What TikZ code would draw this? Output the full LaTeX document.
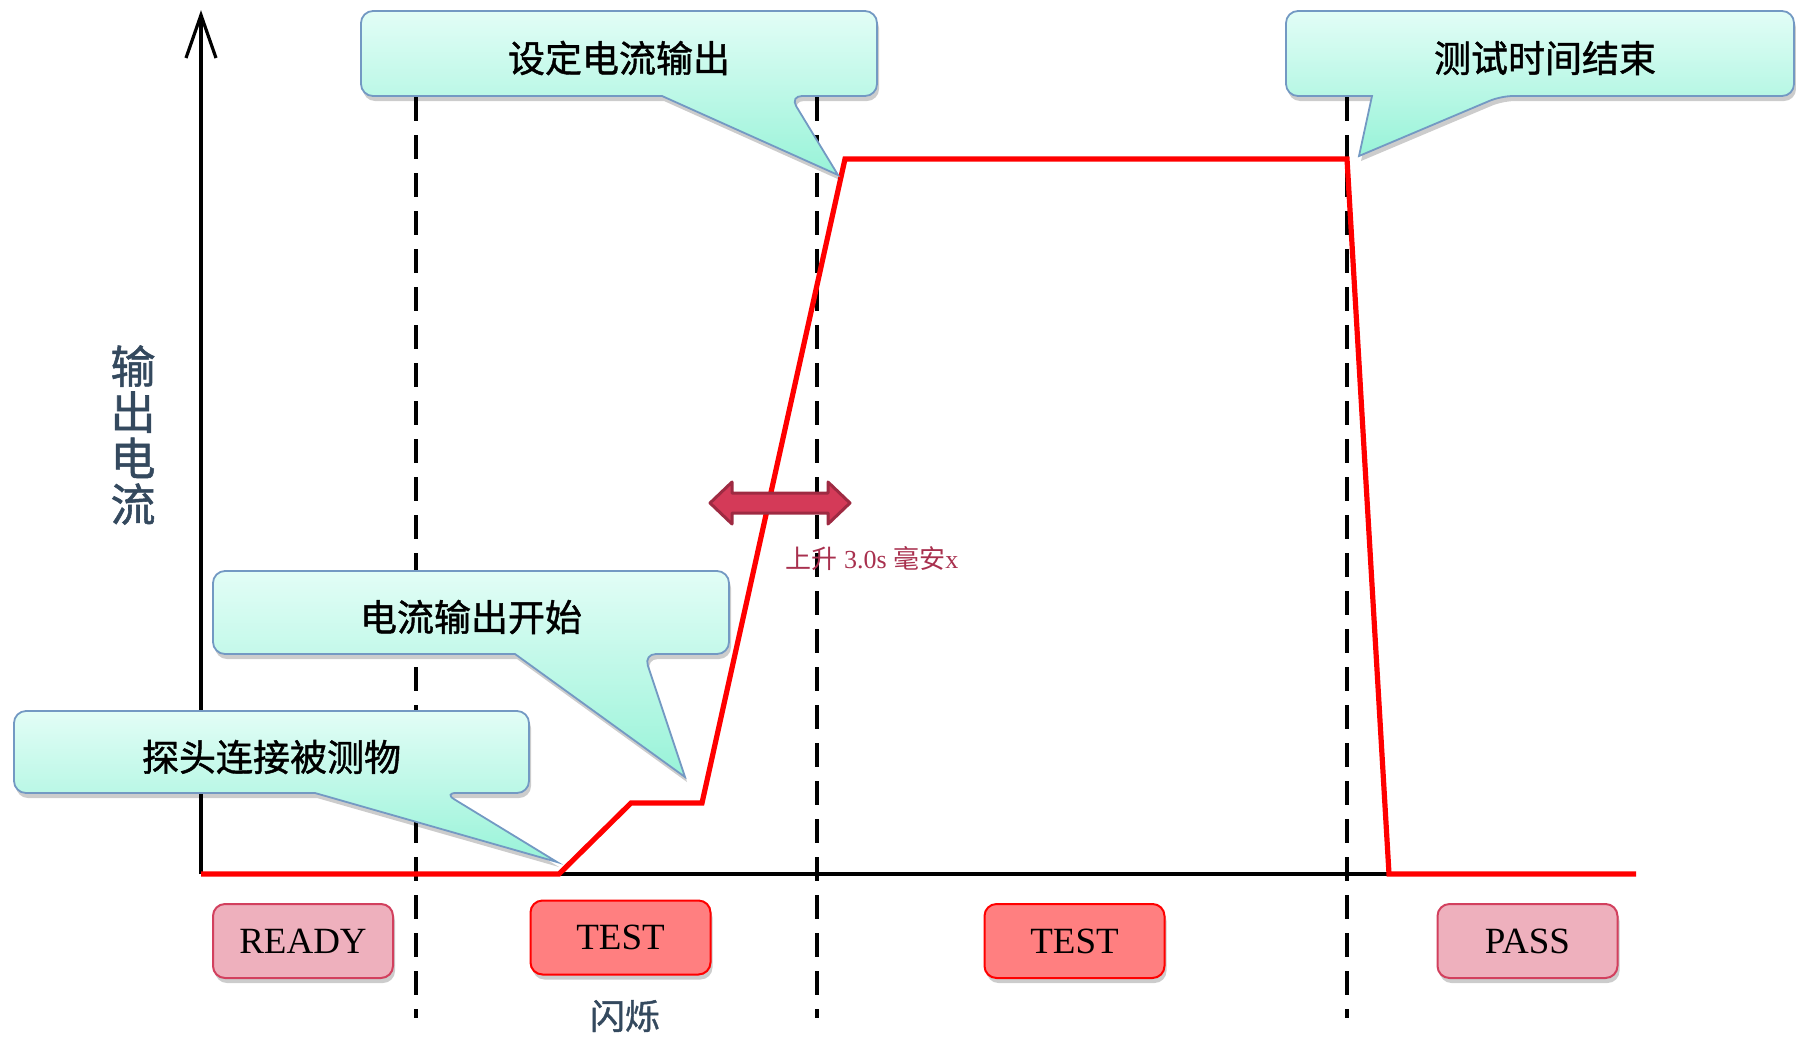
\documentclass[tikz,border=0pt]{standalone}
\usepackage{fontspec}
\setmainfont{Liberation Serif}
\newfontfamily\cjk{Noto Sans CJK SC}
\newfontfamily\cjkb{Noto Sans CJK SC}[FakeBold=1.2]
\usetikzlibrary{shadows}
\definecolor{cotop}{HTML}{E2FDF6}
\definecolor{cobot}{HTML}{98F3D8}
\definecolor{coline}{HTML}{7399C3}
\definecolor{pinkfill}{HTML}{EEB0BD}
\definecolor{pinkline}{HTML}{D2405E}
\definecolor{redfill}{HTML}{FF7F80}
\definecolor{axislbl}{HTML}{34495E}
\definecolor{arrfill}{HTML}{D43A58}
\definecolor{arrline}{HTML}{9E2A42}
\definecolor{lblcol}{HTML}{A8304E}
\tikzset{
  myshadow/.style={drop shadow={shadow xshift=2pt, shadow yshift=-5pt, opacity=0.2, fill=black}},
  callout/.style={draw=coline, line width=1.8pt, top color=cotop, bottom color=cobot, myshadow},
  calltext/.style={font=\cjkb\fontsize{37}{40}\selectfont, text=black, inner sep=0pt},
  statusbox/.style={line width=2pt, rounded corners=12pt, minimum width=180pt, minimum height=74pt,
     font=\fontsize{37}{40}\selectfont, text=black, inner sep=0pt, myshadow},
  statuspink/.style={statusbox, draw=pinkline, fill=pinkfill},
  statusred/.style={statusbox, draw=red, fill=redfill},
  dashline/.style={line width=3.2pt, dash pattern=on 24pt off 14pt},
  axisline/.style={line width=3.2pt, black},
  redcurve/.style={line width=5.2pt, red, line join=miter},
  dblarrow/.style={fill=arrfill, draw=arrline, line width=3pt, line join=round},
}
\newcommand\callpath[8]{%
  \path[callout, rounded corners=12pt] ({(#1+#3)/2},#2) -- (#3,#2) -- (#3,#4) -- (#6,#4)
    [sharp corners] -- (#7,#8) -- (#5,#4) -- ({#1+30},#4)
    [rounded corners=12pt] -- (#1,#4) -- (#1,#2) -- cycle;}
\begin{document}
\begin{tikzpicture}[x=1pt,y=-1pt]
\useasboundingbox (0,0) rectangle (1796,1037);

% dashed separators
\foreach \n/\x in {d1/416,d2/817,d3/1347}{
  \coordinate (\n t) at (\x,97);
  \coordinate (\n b) at (\x,1018);
  \draw[dashline] (\n t) -- (\n b);
}

% axes
\coordinate (O) at (201,874);
\coordinate (ytop) at (201,15);
\coordinate (xend) at (1636,874);
\coordinate (ahl) at (186,58);
\coordinate (ahr) at (216,58);
\draw[axisline] (O) -- (ytop);
\draw[axisline] (O) -- (xend);
\draw[axisline, line join=miter] (ahl) -- (ytop) -- (ahr);

% red output curve
\coordinate (p1) at (559,874);
\coordinate (p2) at (631,803);
\coordinate (p3) at (702,803);
\coordinate (p4) at (845,159);
\coordinate (p5) at (1347,159);
\coordinate (p6) at (1389,874);
\draw[redcurve] (O) -- (p1) -- (p2) -- (p3) -- (p4) -- (p5) -- (p6) -- (xend);

% double arrow
\path[dblarrow] (710,503) -- (732,482) -- (732,493) -- (828,493) -- (828,482) -- (850,503)
   -- (828,524) -- (828,513) -- (732,513) -- (732,524) -- cycle;
\node[font=\fontsize{26}{28}\selectfont, text=lblcol, inner sep=0pt] (rise) at (872,559)
   {{\cjk 上升} 3.0s {\cjk 毫安}x};

% callouts
\callpath{361}{11}{877}{96}{662}{790}{838}{175}
\node[calltext] (c1) at (619,58) {设定电流输出};
\callpath{1286}{11}{1794}{96}{1372}{1501}{1359}{156}
\node[calltext] (c2) at (1545,58) {测试时间结束};
\callpath{213}{571}{729}{654}{515}{644}{685}{777}
\node[calltext] (c3) at (471,617) {电流输出开始};
\callpath{14}{711}{529}{793}{315}{444}{557}{862}
\node[calltext] (c4) at (271.5,757) {探头连接被测物};

% status boxes
\node[statuspink] (ready) at (303,941) {READY};
\node[statusred] (test1) at (620.5,937.5) {TEST};
\node[statusred] (test2) at (1074.5,941) {TEST};
\node[statuspink] (pass) at (1527.5,941) {PASS};
\node[font=\cjkb\fontsize{35}{38}\selectfont, text=axislbl, inner sep=0pt] (blink) at (625,1016) {闪烁};

% axis label
\node[font=\cjkb\fontsize{45}{46}\selectfont, text=axislbl, align=center, inner sep=0pt] (ylbl) at (133,435)
   {输\\出\\电\\流};
\end{tikzpicture}
\end{document}
